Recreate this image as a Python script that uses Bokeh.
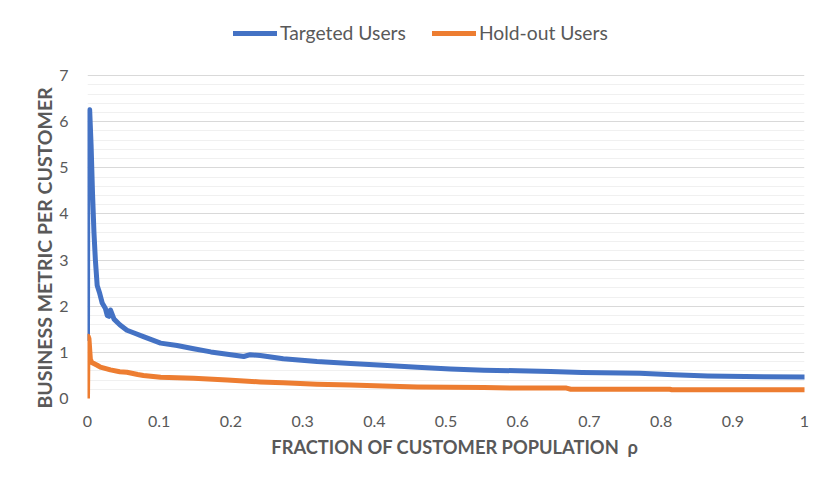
import math
from bokeh.plotting import figure
from bokeh.models import FixedTicker, Legend, LegendItem, Range1d, Title
from bokeh.embed import file_html
from bokeh.resources import INLINE

# ---- data ----
targeted_x = [0.0, 0.0005, 0.002, 0.003, 0.005, 0.007, 0.009, 0.011, 0.0135, 0.017,
              0.0205, 0.025, 0.0275, 0.030, 0.032, 0.037, 0.045, 0.055, 0.065, 0.078,
              0.090, 0.102, 0.125, 0.148, 0.172, 0.200, 0.218, 0.227, 0.241, 0.273,
              0.320, 0.367, 0.412, 0.460, 0.506, 0.553, 0.600, 0.646, 0.690, 0.770,
              0.817, 0.865, 0.943, 1.0]
targeted_y = [1.3, 5.9, 6.2, 6.26, 5.5, 4.45, 3.6, 3.0, 2.45, 2.28,
              2.07, 1.95, 1.8, 1.78, 1.92, 1.72, 1.6, 1.48, 1.42, 1.34,
              1.27, 1.2, 1.15, 1.08, 1.01, 0.95, 0.91, 0.95, 0.93, 0.86,
              0.80, 0.76, 0.72, 0.675, 0.64, 0.615, 0.60, 0.585, 0.565, 0.545,
              0.515, 0.49, 0.47, 0.465]

holdout_x = [0.0, 0.0008, 0.002, 0.004, 0.006, 0.0135, 0.018, 0.032, 0.045, 0.055,
             0.070, 0.078, 0.102, 0.148, 0.195, 0.241, 0.273, 0.320, 0.367, 0.412,
             0.460, 0.506, 0.553, 0.600, 0.668, 0.674, 0.812, 0.815, 1.0]
holdout_y = [0.0, 1.35, 1.3, 0.85, 0.78, 0.72, 0.68, 0.62, 0.58, 0.57,
             0.52, 0.50, 0.46, 0.44, 0.40, 0.36, 0.34, 0.31, 0.29, 0.27,
             0.25, 0.245, 0.24, 0.225, 0.225, 0.20, 0.20, 0.19, 0.19]

series_names = ["Targeted Users", "Hold-out Users"]
x_ticks = [0, 0.1, 0.2, 0.3, 0.4, 0.5, 0.6, 0.7, 0.8, 0.9, 1]
x_tick_labels = ["0", "0.1", "0.2", "0.3", "0.4", "0.5", "0.6", "0.7", "0.8", "0.9", "1"]
y_ticks = [0, 1, 2, 3, 4, 5, 6, 7]
y_minor_ticks = [round(i * 0.2, 1) for i in range(36) if i % 5 != 0]
x_title = "\u00a0\u00a0\u00a0\u00a0FRACTION OF CUSTOMER POPULATION\u00a0\u00a0\u03c1"
y_title = "BUSINESS METRIC PER CUSTOMER"

BLUE = "#4472C4"
ORANGE = "#ED7D31"
TEXT = "#595959"
FONT = "Lato"

# the frame reaches up to the top so that the legend can sit inside it unclipped;
# grid lines are only drawn up to 7
p = figure(width=815, height=475, output_backend="svg", toolbar_location=None,
           x_range=Range1d(0, 1), y_range=Range1d(0, 8.41),
           min_border_left=87, min_border_right=11, min_border_top=10, min_border_bottom=77)
p.outline_line_color = None
p.background_fill_color = "white"
p.border_fill_color = "white"

r1 = p.line(targeted_x, targeted_y, line_color=BLUE, line_width=5, line_join="round", line_cap="round")
r2 = p.line(holdout_x, holdout_y, line_color=ORANGE, line_width=5, line_join="round", line_cap="round")

# axes
p.xaxis.ticker = FixedTicker(ticks=x_ticks)
p.xaxis.major_label_overrides = {t: l for t, l in zip(x_ticks, x_tick_labels)}
p.yaxis.ticker = FixedTicker(ticks=y_ticks, minor_ticks=y_minor_ticks)
for ax in (p.xaxis[0], p.yaxis[0]):
    ax.axis_line_color = None
    ax.major_tick_line_color = None
    ax.minor_tick_line_color = None
    ax.major_tick_out = 0
    ax.minor_tick_out = 0
    ax.major_label_text_font = FONT
    ax.major_label_text_font_size = "16px"
    ax.major_label_text_color = TEXT
    ax.axis_label_text_font = FONT
    ax.axis_label_text_font_size = "18.3px"
    ax.axis_label_text_font_style = "bold"
    ax.axis_label_text_color = TEXT
p.xaxis.major_label_standoff = 17
p.yaxis.major_label_standoff = 19
p.xaxis.axis_label = x_title
p.xaxis.axis_label_standoff = 6

p.add_layout(Title(text=y_title, align="left", offset=-10, standoff=2,
                   text_font=FONT, text_font_size="19.5px", text_font_style="bold",
                   text_color=TEXT), "left")

p.xgrid.grid_line_color = None
p.ygrid.grid_line_color = "#d9d9d9"
p.ygrid.grid_line_width = 1
p.ygrid.minor_grid_line_color = "#f0f0f0"
p.ygrid.minor_grid_line_width = 1

# legend (location = bottom-left corner, relative to the frame)
legend = Legend(items=[LegendItem(label=series_names[0], renderers=[r1]),
                       LegendItem(label=series_names[1], renderers=[r2])],
                orientation="horizontal", location=(146, 354),
                glyph_width=44, glyph_height=22, label_height=22, label_standoff=3, spacing=26,
                padding=0, margin=0, border_line_color=None, background_fill_alpha=0,
                label_text_font=FONT, label_text_font_size="19.3px", label_text_color=TEXT)
p.add_layout(legend, "center")

open("out.html", "w").write(file_html(p, INLINE))
